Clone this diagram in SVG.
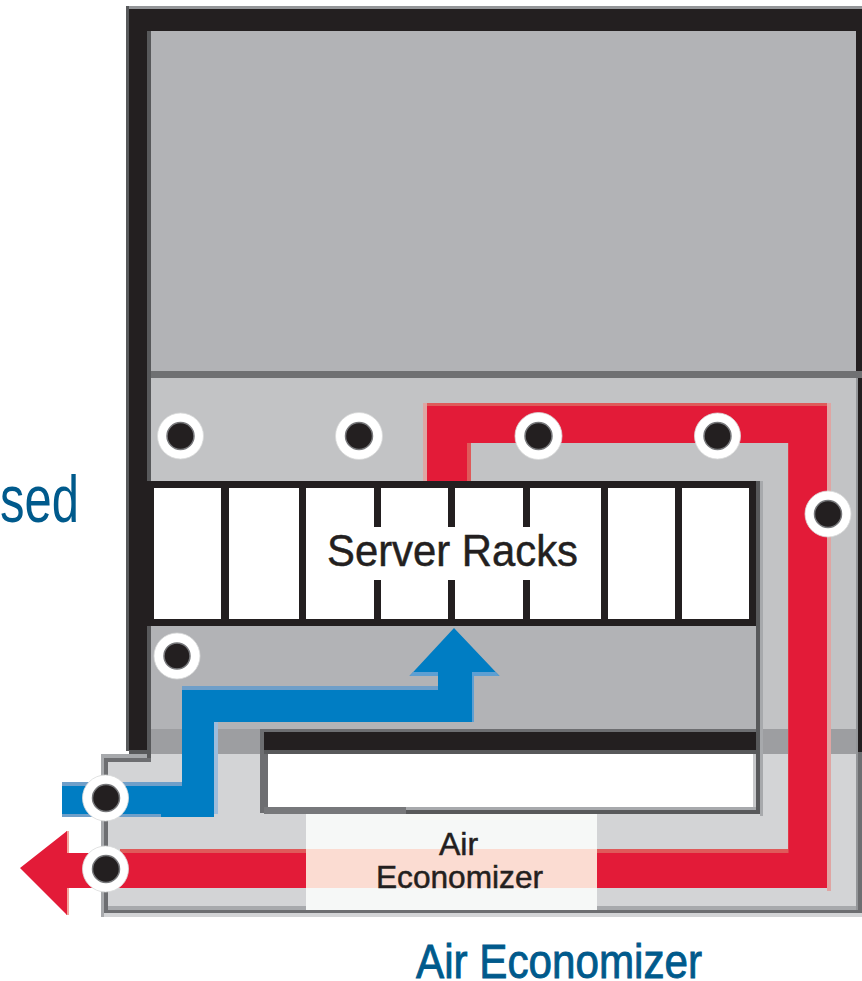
<svg xmlns="http://www.w3.org/2000/svg" width="862" height="981" viewBox="0 0 862 981">
<style>
.port{fill:#fff;stroke:#d9dadb;stroke-width:.8}
.dot{fill:#231f20;stroke:#77787b;stroke-width:1.5}
.wall{fill:#231f20}
.rack{fill:#231f20}
.lab{font-family:"Liberation Sans",Arial,sans-serif;fill:#231f20;stroke:#231f20;stroke-width:.5}
.cap{font-family:"Liberation Sans",Arial,sans-serif;fill:#005a8c}
</style>
<rect width="862" height="981" fill="#fff"/>
<g id="building">
<rect x="101" y="754" width="761" height="163" fill="#d3d4d6"/>
<rect x="151" y="31" width="711" height="340" fill="#b2b3b6"/>
<rect x="151" y="378" width="711" height="103" fill="#c2c3c5"/>
<rect x="151" y="626" width="605" height="103" fill="#b2b3b6"/>
<rect x="756" y="481" width="106" height="248" fill="#c2c3c5"/>
<rect x="145" y="729" width="717" height="25" fill="#9d9ea1"/>
<rect x="151" y="371" width="711" height="7" fill="#6f7072"/>
<rect x="126" y="6" width="736" height="3" fill="#939598"/>
<rect x="126" y="6" width="3" height="745" fill="#58595b"/>
<path class="wall" d="M129 9H862V31H151V481H147V750H129Z"/>
<rect x="147" y="31" width="4" height="731" fill="#58595b"/>
<rect x="129" y="750" width="22" height="4" fill="#58595b"/>
<rect x="101" y="754" width="46" height="4" fill="#a7a9ac"/>
<rect x="104" y="758" width="47" height="4" fill="#6d6e71"/>
<rect x="101" y="754" width="3" height="163" fill="#a7a9ac"/>
<rect x="104" y="758" width="4" height="155" fill="#6d6e71"/>
<rect x="108" y="906" width="748" height="4" fill="#a7a9ac"/>
<rect x="104" y="910" width="758" height="3" fill="#6d6e71"/>
<rect x="856" y="378" width="2" height="532" fill="#939598"/>
<rect x="858" y="378" width="4" height="374" fill="#231f20"/>
<rect x="858" y="752" width="4" height="161" fill="#6d6e71"/>
<rect x="856" y="31" width="6" height="340" fill="#231f20"/>
</g>
<g id="server-racks">
<rect x="756" y="481" width="4" height="333" fill="#58595b"/>
<rect x="760" y="481" width="3" height="335" fill="#a7a9ac"/>
<rect class="rack" x="147" y="481" width="609" height="145"/>
<rect x="154" y="488" width="595" height="131" fill="#fff"/>
<rect class="rack" x="221" y="488" width="8" height="131"/>
<rect class="rack" x="299" y="488" width="7" height="131"/>
<rect class="rack" x="374" y="488" width="7" height="39"/>
<rect class="rack" x="374" y="580" width="7" height="39"/>
<rect class="rack" x="448" y="488" width="7" height="39"/>
<rect class="rack" x="448" y="580" width="7" height="39"/>
<rect class="rack" x="523" y="488" width="7" height="39"/>
<rect class="rack" x="523" y="580" width="7" height="39"/>
<rect class="rack" x="601" y="488" width="7" height="131"/>
<rect class="rack" x="675" y="488" width="7" height="131"/>
<text class="lab" x="327" y="566" font-size="44" textLength="251" lengthAdjust="spacingAndGlyphs">Server Racks</text>
</g>
<g id="duct">
<rect x="260" y="729" width="496" height="3" fill="#6d6e71"/>
<rect class="wall" x="264" y="732" width="492" height="18"/>
<rect x="260" y="750" width="496" height="4" fill="#58595b"/>
<rect x="260" y="729" width="4" height="84" fill="#6d6e71"/>
<rect x="264" y="754" width="4" height="59" fill="#6d6e71"/>
<rect x="268" y="754" width="488" height="53" fill="#fff"/>
<rect x="753" y="754" width="3" height="56" fill="#c7c8ca"/>
<rect x="264" y="807" width="142" height="7" fill="#77787b"/>
<rect x="406" y="807" width="350" height="3" fill="#a7a9ac"/>
<rect x="406" y="810" width="354" height="4" fill="#58595b"/>
</g>
<g id="connectors">
<path d="M423 481V403H831V891H827V406H427V481Z" fill="#dfa5a3"/>
<path d="M427 403H827V406H427ZM467 440H792V853H120V849H788V443H471V481H467Z" fill="#df5a5a"/>
<path d="M66 831H69V915H66Z" fill="#f3a69c"/>
<path d="M427 481V406H827V888H67V915L20 868L67 831V853H788.500V443H467V481Z" fill="#e31b38"/>
<rect x="214" y="722" width="4" height="92" fill="#9dbcdb"/>
<rect x="62" y="814" width="99" height="3" fill="#6f9fc9"/>
<rect x="62" y="782" width="120" height="4" fill="#6f9fc9"/>
<rect x="182" y="686" width="256" height="4" fill="#6f9fc9"/>
<rect x="472" y="676" width="2" height="46" fill="#5e9fd2"/>
<path d="M62 786H182V690H438V676H409.500L454 628L499.500 676H472V722H214V817H161V814H62Z" fill="#007dc3"/>
<path d="M413 672H438V676H409.500ZM472 672H495.500L499.500 676H472Z" fill="#5e9fd2"/>
</g>
<g id="air-economizer">
<rect x="306" y="814" width="291" height="96" fill="#f6f8f7"/>
<rect x="306" y="849" width="291" height="39" fill="#fbdcd2"/>
<text class="lab" x="439" y="855" font-size="32">Air</text>
<text class="lab" x="376" y="888" font-size="32" textLength="167" lengthAdjust="spacingAndGlyphs">Economizer</text>
</g>
<g id="sensor-1"><circle class="port" cx="180.500" cy="436" r="23"/><circle class="dot" cx="180.500" cy="436" r="13.500"/></g>
<g id="sensor-2"><circle class="port" cx="359" cy="436" r="23.500"/><circle class="dot" cx="359" cy="436" r="13.500"/></g>
<g id="sensor-3"><circle class="port" cx="538.500" cy="436" r="23.500"/><circle class="dot" cx="538.500" cy="436" r="13.500"/></g>
<g id="sensor-4"><circle class="port" cx="717.500" cy="436" r="23"/><circle class="dot" cx="717.500" cy="436" r="13.500"/></g>
<g id="sensor-5"><circle class="port" cx="828" cy="514" r="23"/><circle class="dot" cx="828" cy="514" r="13.500"/></g>
<g id="sensor-6"><circle class="port" cx="177" cy="656" r="23"/><circle class="dot" cx="177" cy="656" r="13"/></g>
<g id="sensor-7"><circle class="port" cx="105.500" cy="798" r="23"/><circle class="dot" cx="106" cy="798" r="13.500"/></g>
<g id="sensor-8"><circle class="port" cx="105.500" cy="869" r="23"/><circle class="dot" cx="106" cy="869" r="13.500"/></g>
<g id="captions">
<text class="cap" x="0" y="522" font-size="66" textLength="79" lengthAdjust="spacingAndGlyphs">sed</text>
<text class="cap" x="416" y="978" font-size="48" textLength="286" lengthAdjust="spacingAndGlyphs" stroke="#005a8c" stroke-width=".9">Air Economizer</text>
</g>
</svg>
